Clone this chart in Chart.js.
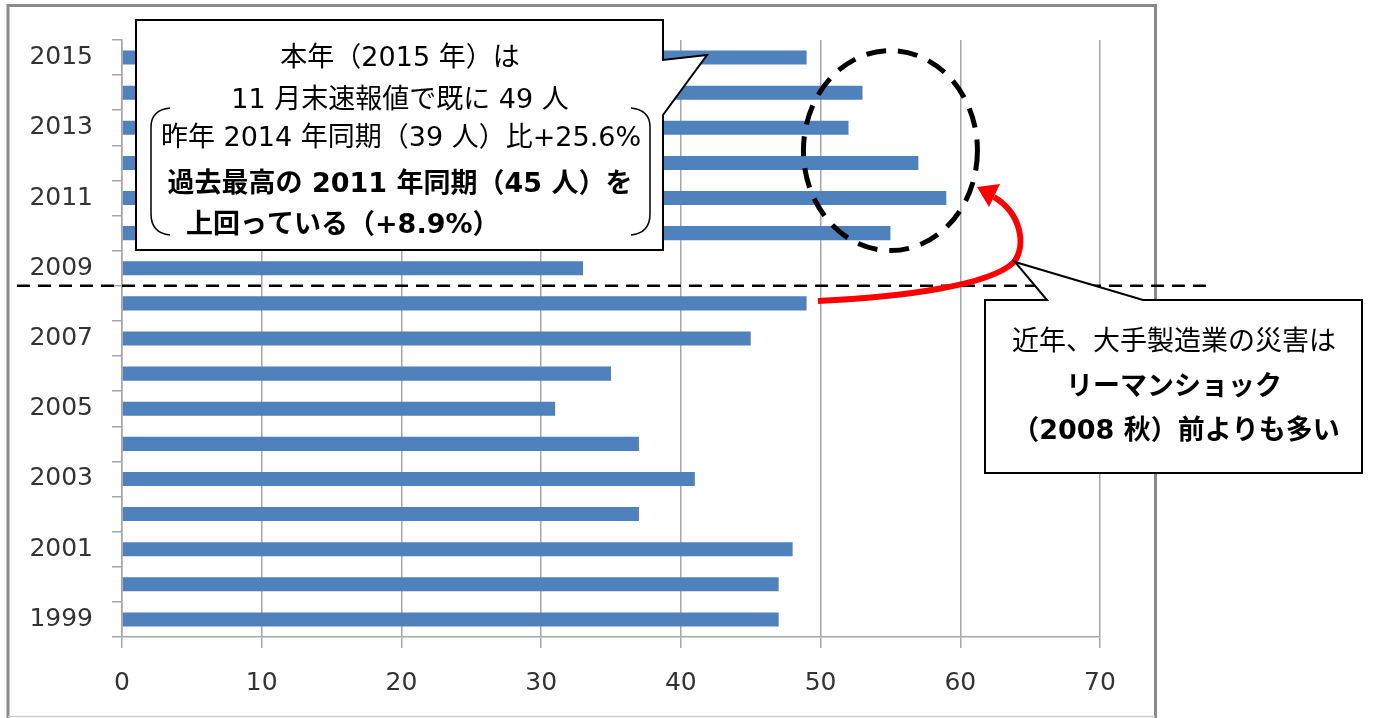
<!DOCTYPE html>
<html><head><meta charset="utf-8">
<script src="https://cdn.jsdelivr.net/npm/chart.js@4"></script>
<style>html,body{margin:0;padding:0;background:#fff;overflow:hidden}#wrap{width:1375px;height:718px;position:relative}</style>
</head><body><div id="wrap"><canvas id="c" width="1375" height="718"></canvas></div>
<script>
// ---- data ----
const years = ['1999','2000','2001','2002','2003','2004','2005','2006','2007','2008','2009','2010','2011','2012','2013','2014','2015'];
const values = [47,47,48,37,41,37,31,35,45,49,33,55,59,57,52,53,49];
const xMin = 0, xMax = 70, xStep = 10;

const callout1 = ['本年（2015 年）は','11 月末速報値で既に 49 人','昨年 2014 年同期（39 人）比+25.6%','過去最高の 2011 年同期（45 人）を','上回っている（+8.9%）'];
const callout2 = ['近年、大手製造業の災害は','リーマンショック','（2008 秋）前よりも多い'];

const TICK_FONT = '"DejaVu Sans", "Noto Sans CJK JP", sans-serif';
const JP_FONT = '"DejaVu Sans", "Noto Sans CJK JP", sans-serif';
const GRID = '#a6a6a6';

const annot = {
  id: 'annot',
  beforeDraw(chart) {
    const ctx = chart.ctx;
    ctx.save();
    ctx.fillStyle = '#fff';
    ctx.fillRect(0, 0, chart.width, chart.height);
    // outer frame
    ctx.strokeStyle = '#8a8a8a';
    ctx.lineWidth = 3;
    ctx.beginPath();
    ctx.moveTo(8, 718); ctx.lineTo(8, 5.5); ctx.lineTo(1155.5, 5.5); ctx.lineTo(1155.5, 718);
    ctx.stroke();
    ctx.strokeStyle = '#cfcfcf';
    ctx.lineWidth = 1.5;
    ctx.beginPath(); ctx.moveTo(8, 716.5); ctx.lineTo(1155, 716.5); ctx.stroke();
    ctx.restore();
  },
  afterDraw(chart) {
    const ctx = chart.ctx;
    const xs = chart.scales.x, ys = chart.scales.y;
    const py = (y) => ys.getPixelForValue(years.indexOf(y));
    ctx.save();

    // horizontal dashed separator between 2008 and 2009
    const sepY = (py('2008') + py('2009')) / 2;
    ctx.strokeStyle = '#000';
    ctx.lineWidth = 2.5;
    ctx.setLineDash([13, 8]);
    ctx.beginPath(); ctx.moveTo(17, sepY); ctx.lineTo(1208, sepY); ctx.stroke();

    // dashed ellipse around recent years
    const cx = xs.getPixelForValue(55);
    const cy = py('2012') * 0.65 + py('2013') * 0.35;
    ctx.lineWidth = 5;
    ctx.setLineDash([20, 12]);
    ctx.beginPath(); ctx.ellipse(cx, cy, 87, 100, 0, 0, Math.PI * 2); ctx.stroke();
    ctx.setLineDash([]);

    // red curved arrow
    ctx.strokeStyle = '#ff0000';
    ctx.fillStyle = '#ff0000';
    ctx.lineWidth = 6;
    ctx.lineCap = 'butt';
    ctx.beginPath();
    ctx.moveTo(818, 301);
    ctx.bezierCurveTo(900, 297, 990, 286, 1014, 262);
    ctx.bezierCurveTo(1026, 246, 1022, 214, 994, 197);
    ctx.stroke();
    ctx.beginPath();
    ctx.moveTo(977, 187); ctx.lineTo(1000, 184); ctx.lineTo(989, 207); ctx.closePath();
    ctx.fill();

    // callout 1
    ctx.strokeStyle = '#000';
    ctx.fillStyle = '#fff';
    ctx.lineWidth = 2;
    ctx.beginPath();
    ctx.moveTo(136, 20); ctx.lineTo(663, 20); ctx.lineTo(663, 60); ctx.lineTo(707, 55);
    ctx.lineTo(663, 115); ctx.lineTo(663, 250); ctx.lineTo(136, 250); ctx.closePath();
    ctx.fill(); ctx.stroke();
    // brackets
    ctx.lineWidth = 1.5;
    ctx.beginPath();
    ctx.moveTo(170, 108); ctx.quadraticCurveTo(151, 110, 151, 127); ctx.lineTo(151, 214);
    ctx.quadraticCurveTo(151, 233, 170, 235);
    ctx.moveTo(631, 108); ctx.quadraticCurveTo(650, 110, 650, 127); ctx.lineTo(650, 214);
    ctx.quadraticCurveTo(650, 233, 631, 235);
    ctx.stroke();

    ctx.fillStyle = '#000';
    ctx.textBaseline = 'middle';
    ctx.textAlign = 'center';
    const c1y = [59, 101, 139, 185, 226];
    ctx.font = '27px ' + JP_FONT;
    ctx.fillText(callout1[0], 400, c1y[0]);
    ctx.fillText(callout1[1], 400, c1y[1]);
    ctx.fillText(callout1[2], 401, c1y[2]);
    ctx.font = 'bold 27px ' + JP_FONT;
    ctx.fillText(callout1[3], 400, c1y[3]);
    ctx.textAlign = 'left';
    ctx.fillText(callout1[4], 186, c1y[4]);

    // callout 2
    ctx.fillStyle = '#fff';
    ctx.lineWidth = 2;
    ctx.beginPath();
    ctx.moveTo(985, 300); ctx.lineTo(1047, 300); ctx.lineTo(1015, 262); ctx.lineTo(1143, 300);
    ctx.lineTo(1362, 300); ctx.lineTo(1362, 473); ctx.lineTo(985, 473); ctx.closePath();
    ctx.fill(); ctx.stroke();
    ctx.fillStyle = '#000';
    ctx.textAlign = 'center';
    ctx.font = '27px ' + JP_FONT;
    ctx.fillText(callout2[0], 1174, 343);
    ctx.font = 'bold 27px ' + JP_FONT;
    ctx.fillText(callout2[1], 1174, 388);
    ctx.fillText(callout2[2], 1176, 432);
    ctx.restore();
  }
};

new Chart(document.getElementById('c'), {
  type: 'bar',
  data: {
    labels: years,
    datasets: [{
      data: values,
      backgroundColor: '#4f81bd',
      borderWidth: 0,
      categoryPercentage: 1.0,
      barPercentage: 0.4
    }]
  },
  options: {
    indexAxis: 'y',
    responsive: false,
    animation: false,
    devicePixelRatio: 1,
    layout: { padding: { left: 8, right: 275, top: 40, bottom: 0 } },
    plugins: { legend: { display: false }, tooltip: { enabled: false } },
    scales: {
      y: {
        type: 'category',
        reverse: true,
        afterFit(s) { s.width = 114; },
        grid: { drawOnChartArea: false, offset: true, tickLength: 10, color: GRID, lineWidth: 1.5 },
        border: { color: GRID, width: 1.5 },
        ticks: {
          autoSkip: false,
          padding: 19,
          color: '#333',
          font: { family: TICK_FONT, size: 25 },
          callback(v) { const y = this.getLabelForValue(v); return (+y) % 2 === 1 ? y : ''; }
        }
      },
      x: {
        type: 'linear',
        min: xMin, max: xMax,
        afterFit(s) { s.height = 81; },
        grid: { color: GRID, lineWidth: 1.5, tickLength: 11 },
        border: { color: GRID, width: 1.5 },
        ticks: {
          stepSize: xStep,
          padding: 20,
          color: '#333',
          font: { family: TICK_FONT, size: 25 }
        }
      }
    }
  },
  plugins: [annot]
});
</script>
</body></html>
